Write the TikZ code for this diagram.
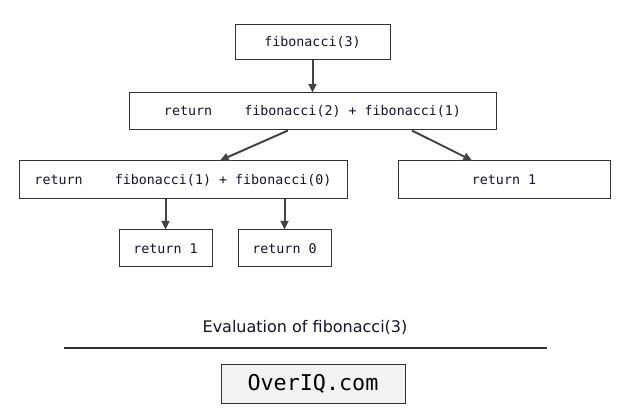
\documentclass[tikz,border=0pt]{standalone}
\usepackage{fontspec}
\setmainfont{DejaVu Sans}
\setmonofont{DejaVu Sans Mono}
\usepackage{xcolor}
\usepackage{tikz}
\usetikzlibrary{arrows.meta, calc}
\definecolor{box-line}{RGB}{51,51,51}
\definecolor{arrow-line}{RGB}{68,68,68}
\definecolor{code-text}{RGB}{20,20,40}
\definecolor{logo-fill}{RGB}{242,242,242}
\tikzset{
    callbox/.style = {draw=box-line, line width=0.75pt, inner sep=0pt,
        text=code-text, font=\ttfamily\fontsize{10}{12}\selectfont},
    callarrow/.style = {draw=arrow-line, line width=1.5pt,
        -{Triangle[length=6.5pt, width=6pt]}},
}
\begin{document}
\begin{tikzpicture}[x=0.75pt, y=-0.75pt]
\useasboundingbox (0,0) rectangle (625,420);

%calls
\node[callbox, minimum width=116.25pt, minimum height=26.25pt] (fib3) at (312.5, 42.5) {fibonacci(3)};
\node[callbox, minimum width=275.25pt, minimum height=27.75pt] (ret21) at (312.5, 111.5) {return\ \ \ \ fibonacci(2) + fibonacci(1)};
\node[callbox, minimum width=246pt, minimum height=28.5pt] (ret10) at (183, 180) {return\ \ \ \ fibonacci(1) + fibonacci(0)};
\node[callbox, minimum width=159pt, minimum height=28.5pt] (retb) at (504, 180) {return 1};

%base cases
\node[callbox, minimum width=69.75pt, minimum height=27.75pt] (reta) at (165.5, 248.5) {return 1};
\node[callbox, minimum width=69.75pt, minimum height=27.75pt] (retz) at (284.5, 248.5) {return 0};

%arrows
\draw[callarrow] (fib3.south) -- (ret21.north);
\draw[callarrow] ([xshift=-18.4pt]ret21.south) -- ([xshift=27.75pt]ret10.north);
\draw[callarrow] ([xshift=74.6pt]ret21.south) -- ([xshift=-24pt]retb.north);
\draw[callarrow] (reta.north |- ret10.south) -- (reta.north);
\draw[callarrow] (retz.north |- ret10.south) -- (retz.north);

%caption
\node[text=code-text, font=\fontsize{12}{14}\selectfont] (caption) at (305, 327) {Evaluation of fibonacci(3)};
\coordinate (rule-w) at (64, 348);
\coordinate (rule-e) at (547, 348);
\draw[box-line, line width=1.5pt] (rule-w) -- (rule-e);
\node[callbox, fill=logo-fill, text=black, minimum width=138pt, minimum height=28.5pt,
    font=\ttfamily\fontsize{16.3}{18}\selectfont] (logo) at (313, 384) {OverIQ.com};
\end{tikzpicture}
\end{document}
